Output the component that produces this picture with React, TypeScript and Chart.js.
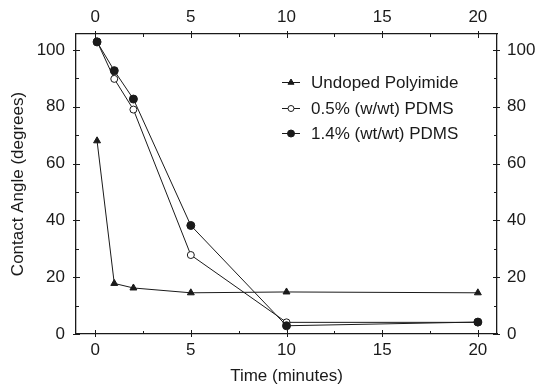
import React, { useEffect, useRef } from 'react';
import { Chart, registerables } from 'chart.js';

Chart.register(...registerables);

const timeUndoped = [0.1, 1, 2, 5, 10, 20];
const angleUndoped = [68, 17.8, 16.2, 14.5, 14.8, 14.5];
const time05 = [0.1, 1, 2, 5, 10, 20];
const angle05 = [103, 89.8, 79, 27.8, 4.1, 4.1];
const time14 = [0.1, 1, 2, 5, 10, 20];
const angle14 = [102.8, 92.7, 82.7, 38.2, 2.9, 4.2];

const xTicks = [0, 5, 10, 15, 20];
const xMinorTicks = [2.5, 7.5, 12.5, 17.5];
const yTicks = [0, 20, 40, 60, 80, 100];
const yMinorTicks = [10, 30, 50, 70, 90];

const seriesLabels = ['Undoped Polyimide', '0.5% (w/wt) PDMS', '1.4% (wt/wt) PDMS'];
const xTitle = 'Time (minutes)';
const yTitle = 'Contact Angle (degrees)';

const FONT = "'Liberation Sans', Arial, Helvetica, sans-serif";
const INK = '#1a1a1a';

const toPoints = (xs: number[], ys: number[]) => xs.map((x, i) => ({ x, y: ys[i] }));

function drawMarker(ctx: CanvasRenderingContext2D, style: string, x: number, y: number, r: number, fill: string) {
  ctx.beginPath();
  if (style === 'triangle') {
    ctx.moveTo(x, y - r);
    ctx.lineTo(x + r * 0.866, y + r * 0.5);
    ctx.lineTo(x - r * 0.866, y + r * 0.5);
    ctx.closePath();
  } else {
    ctx.arc(x, y, r, 0, Math.PI * 2);
  }
  ctx.fillStyle = fill;
  ctx.fill();
  ctx.stroke();
}

const framePlugin = {
  id: 'frameTicks',
  afterDraw(chart: any) {
    const { ctx, chartArea, scales } = chart;
    const { left, right, top, bottom } = chartArea;
    const xs = scales.x;
    const ys = scales.y;
    ctx.save();
    ctx.strokeStyle = INK;
    ctx.lineWidth = 1;
    ctx.beginPath();
    xTicks.forEach((v) => {
      const px = Math.round(xs.getPixelForValue(v)) + 0.5;
      ctx.moveTo(px, bottom + 3);
      ctx.lineTo(px, bottom - 4);
      ctx.moveTo(px, top - 3);
      ctx.lineTo(px, top + 4);
    });
    xMinorTicks.forEach((v) => {
      const px = Math.round(xs.getPixelForValue(v)) + 0.5;
      ctx.moveTo(px, bottom);
      ctx.lineTo(px, bottom - 3);
      ctx.moveTo(px, top);
      ctx.lineTo(px, top + 3);
    });
    yTicks.forEach((v) => {
      const py = Math.round(ys.getPixelForValue(v)) + 0.5;
      ctx.moveTo(left - 3, py);
      ctx.lineTo(left + 4, py);
      ctx.moveTo(right + 3, py);
      ctx.lineTo(right - 4, py);
    });
    yMinorTicks.forEach((v) => {
      const py = Math.round(ys.getPixelForValue(v)) + 0.5;
      ctx.moveTo(left, py);
      ctx.lineTo(left + 3, py);
      ctx.moveTo(right, py);
      ctx.lineTo(right - 3, py);
    });
    ctx.stroke();

    // legend
    const styles = ['triangle', 'circle', 'circle'];
    const fills = [INK, '#ffffff', INK];
    const radii = [3.5, 3, 3.5];
    const lx0 = left + 206;
    const lx1 = left + 224;
    const tx = left + 235;
    const rowY = [top + 48, top + 74, top + 99];
    ctx.font = `17px ${FONT}`;
    ctx.textBaseline = 'middle';
    ctx.textAlign = 'left';
    seriesLabels.forEach((label, i) => {
      const y = rowY[i] + 0.5;
      ctx.beginPath();
      ctx.moveTo(lx0, y);
      ctx.lineTo(lx1, y);
      ctx.stroke();
      drawMarker(ctx, styles[i], (lx0 + lx1) / 2, y, radii[i], fills[i]);
      ctx.fillStyle = INK;
      ctx.fillText(label, tx, rowY[i] + 1);
    });
    ctx.restore();
  },
};

export default function App() {
  const canvasRef = useRef<HTMLCanvasElement | null>(null);

  useEffect(() => {
    document.body.style.margin = '0';
    const canvas = canvasRef.current;
    if (!canvas) return;

    const fixTicks = (vals: number[]) => (scale: any) => {
      scale.ticks = vals.map((v) => ({ value: v }));
    };

    const tickFont = { family: FONT, size: 17 };
    const baseGrid = { display: false, drawTicks: false, tickLength: 0 };
    const border = { display: true, color: INK, width: 1.3 };

    const chart = new Chart(canvas, {
      type: 'line',
      data: {
        datasets: [
          {
            label: seriesLabels[0],
            data: toPoints(timeUndoped, angleUndoped),
            borderColor: INK,
            borderWidth: 1,
            backgroundColor: INK,
            pointStyle: 'triangle',
            pointRadius: 4,
            pointBorderWidth: 1,
            pointBorderColor: INK,
            pointBackgroundColor: INK,
            order: 2,
          },
          {
            label: seriesLabels[1],
            data: toPoints(time05, angle05),
            borderColor: INK,
            borderWidth: 1,
            backgroundColor: '#ffffff',
            pointStyle: 'circle',
            pointRadius: 3.5,
            pointBorderWidth: 1,
            pointBorderColor: INK,
            pointBackgroundColor: '#ffffff',
            order: 1,
          },
          {
            label: seriesLabels[2],
            data: toPoints(time14, angle14),
            borderColor: INK,
            borderWidth: 1,
            backgroundColor: INK,
            pointStyle: 'circle',
            pointRadius: 4,
            pointBorderWidth: 1,
            pointBorderColor: INK,
            pointBackgroundColor: INK,
            order: 0,
          },
        ],
      },
      options: {
        animation: false,
        responsive: true,
        maintainAspectRatio: false,
        layout: { padding: 0 },
        plugins: { legend: { display: false }, tooltip: { enabled: false } },
        elements: { line: { tension: 0 } },
        scales: {
          x: {
            type: 'linear',
            position: 'bottom',
            min: -1,
            max: 21,
            grid: baseGrid,
            border,
            afterBuildTicks: fixTicks(xTicks),
            afterFit: (s: any) => { s.height = 54; },
            ticks: { color: INK, font: tickFont, padding: 6, maxRotation: 0 },
            title: { display: true, text: xTitle, color: INK, font: { family: FONT, size: 17 }, padding: { top: 0, bottom: 1 } },
          },
          x2: {
            type: 'linear',
            position: 'top',
            min: -1,
            max: 21,
            grid: baseGrid,
            border,
            afterBuildTicks: fixTicks(xTicks),
            afterFit: (s: any) => { s.height = 34; },
            ticks: { color: INK, font: tickFont, padding: 6, maxRotation: 0 },
          },
          y: {
            type: 'linear',
            position: 'left',
            min: 0,
            max: 105.6,
            grid: baseGrid,
            border,
            afterBuildTicks: fixTicks(yTicks),
            afterFit: (s: any) => { s.width = 76; },
            ticks: { color: INK, font: tickFont, padding: 11 },
            title: { display: true, text: yTitle, color: INK, font: { family: FONT, size: 17 }, padding: { top: 8, bottom: 0 } },
          },
          y2: {
            type: 'linear',
            position: 'right',
            min: 0,
            max: 105.6,
            grid: baseGrid,
            border,
            afterBuildTicks: fixTicks(yTicks),
            afterFit: (s: any) => { s.width = 43; },
            ticks: { color: INK, font: tickFont, padding: 10 },
          },
        },
      },
      plugins: [framePlugin],
    } as any);

    return () => chart.destroy();
  }, []);

  return (
    <div style={{ position: 'relative', width: 540, height: 388 }}>
      <canvas ref={canvasRef} />
    </div>
  );
}
